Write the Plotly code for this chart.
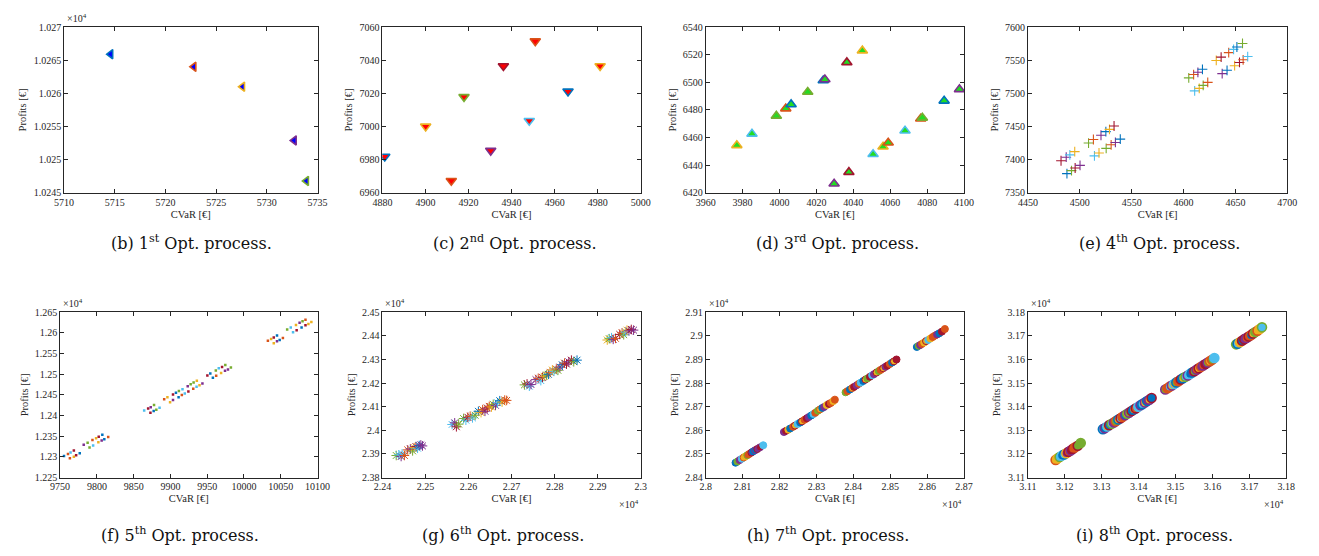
import plotly.graph_objects as go

W, H = 1319, 556
MC = {'b': '#0072BD', 'r': '#D95319', 'y': '#EDB120', 'p': '#7E2F8E',
      'g': '#77AC30', 'c': '#4DBEEE', 'd': '#A2142F'}

# ---------------- data ----------------
# (b) 1st process
b_x = [5714.6, 5722.8, 5727.6, 5732.7, 5733.9]
b_y = [10265.9, 10264.0, 10261.0, 10252.9, 10246.8]
b_edge = "brypg"

# (c) 2nd process
c_x = [4881.1, 4900.1, 4912.0, 4917.9, 4930.3, 4936.2, 4948.2, 4951.0, 4966.2, 4981.1]
c_y = [6981.9, 7000.1, 6967.3, 7017.9, 6985.5, 7036.5, 7003.5, 7051.5, 7021.2, 7036.5]
c_edge = "byrgpdcrby"

# (d) 3rd process
d_x = [3976.9, 3985.1, 3998.3, 4003.4, 4006.3, 4015.3, 4023.7, 4024.6, 4036.5, 4044.9,
       4029.6, 4037.6, 4050.7, 4056.1, 4058.9, 4068.0, 4076.5, 4077.4, 4089.2, 4097.5]
d_y = [6454.4, 6462.7, 6475.7, 6481.0, 6484.0, 6493.0, 6501.3, 6502.0, 6514.4, 6522.9,
       6426.6, 6435.0, 6448.0, 6453.4, 6456.3, 6465.0, 6473.6, 6474.3, 6486.6, 6494.9]
d_edge = "ycgrbgbpdypdcyrcrgbp"

# (e) 4th process
e_x = [4481.9, 4486.9, 4490.4, 4495.1, 4508.4, 4513.1, 4520.4, 4525.1, 4528.6, 4533.0,
       4487.6, 4492.0, 4495.5, 4500.2, 4514.1, 4518.5, 4525.4, 4530.2, 4534.3, 4539.0,
       4605.0, 4609.7, 4613.8, 4618.2, 4631.5, 4636.2, 4643.5, 4648.2, 4651.4, 4656.8,
       4610.7, 4615.1, 4618.9, 4623.3, 4637.2, 4641.9, 4649.2, 4653.9, 4657.4, 4661.8]
e_y = [7398.4, 7403.8, 7407.3, 7412.2, 7425.1, 7430.5, 7436.9, 7442.4, 7445.8, 7450.8,
       7379.1, 7383.5, 7387.5, 7391.4, 7405.8, 7410.2, 7417.1, 7422.5, 7426.0, 7431.0,
       7523.4, 7528.4, 7531.8, 7536.3, 7549.6, 7554.6, 7561.5, 7566.4, 7569.9, 7575.3,
       7503.7, 7507.6, 7512.1, 7516.6, 7529.8, 7534.8, 7541.7, 7546.6, 7550.6, 7555.5]
e_col = "dpcygrpbyd" + "bgdpcygrpb" + "grpbydrcbg" + "cygrpbydrc"

# (f) 5th process
f_x = [9755.3, 9760.7, 9764.2, 9768.7, 9763.3, 9768.7, 9771.8, 9776.7, 9782.1, 9787.4,
       9790.0, 9794.0, 9794.9, 9798.9, 9802.0, 9802.5, 9806.5, 9807.4, 9810.1, 9815.4,
       9864.3, 9869.7, 9873.2, 9877.7, 9872.8, 9877.2, 9880.8, 9885.2, 9891.5, 9895.9,
       9899.5, 9903.5, 9903.5, 9907.5, 9911.1, 9911.5, 9916.4, 9915.5, 9919.5, 9923.5,
       9924.4, 9927.5, 9931.0, 9931.5, 9935.5, 9935.9, 9939.5, 9943.5, 9950.2, 9954.2,
       9957.7, 9961.7, 9962.2, 9965.7, 9968.9, 9970.2, 9974.2, 9974.6, 9978.2, 9982.2,
       10032.5, 10036.9, 10040.5, 10044.9, 10040.5, 10044.9, 10048.5, 10052.9, 10058.7, 10063.6,
       10066.7, 10070.7, 10071.6, 10075.6, 10078.3, 10079.6, 10083.6, 10083.6, 10087.6, 10091.6]
f_y = [12302.3, 12307.1, 12311.0, 12315.8, 12296.8, 12300.7, 12303.9, 12308.6, 12329.2, 12334.0,
       12322.9, 12341.1, 12327.7, 12345.1, 12335.6, 12349.0, 12339.5, 12353.8, 12342.7, 12348.3,
       12412.4, 12417.2, 12420.4, 12425.9, 12406.9, 12410.9, 12414.0, 12418.8, 12439.4, 12444.1,
       12432.3, 12437.8, 12451.3, 12455.2, 12444.1, 12459.2, 12464.0, 12449.7, 12453.6, 12471.1,
       12458.4, 12475.8, 12464.7, 12479.8, 12469.5, 12484.5, 12473.5, 12477.5, 12497.2, 12502.0,
       12491.7, 12509.1, 12496.4, 12514.7, 12502.8, 12517.8, 12508.3, 12522.6, 12511.5, 12516.2,
       12581.2, 12585.2, 12589.1, 12593.9, 12574.9, 12579.6, 12582.8, 12587.6, 12608.2, 12612.9,
       12601.8, 12619.3, 12606.6, 12624.8, 12612.9, 12628.0, 12618.5, 12631.9, 12621.6, 12626.4]
f_col = ("brcdrydbpg" "grcyydpbbr"
         "cdpgdbgcryypdbbgcrcp" "dgrgcyypdbbgrcydpgpg"
         "rydbypbrgccydpbgdryy")

# (g) 6th process
g_x = [22432.1, 22438.2, 22443.5, 22445.8, 22451.1, 22458.8, 22464.9, 22470.2, 22474.0, 22477.9,
       22481.7, 22485.5, 22489.3, 22493.1,
       22561.8, 22567.9, 22571.8, 22577.1, 22588.5, 22593.9, 22598.5, 22603.8, 22609.2, 22615.3,
       22622.9, 22629.0, 22632.8, 22638.2, 22643.5, 22648.1, 22653.4, 22657.3, 22662.6, 22667.2,
       22672.5, 22677.9, 22684.0, 22688.5,
       22729.8, 22735.9, 22741.2, 22745.0, 22756.5, 22761.8, 22767.9, 22771.8, 22775.6, 22780.9,
       22785.5, 22789.3, 22794.7, 22798.5, 22803.8, 22807.6, 22812.2, 22817.6, 22822.9, 22827.5,
       22832.8, 22838.9, 22844.3, 22851.9,
       22922.1, 22926.7, 22932.1, 22935.9, 22941.2, 22951.1, 22956.5, 22960.3, 22964.9, 22967.9,
       22972.5, 22977.9, 22983.2]
g_y = [23893.6, 23896.4, 23889.4, 23900.6, 23893.6, 23917.3, 23921.5, 23913.1, 23927.1, 23931.3,
       23924.3, 23935.5, 23938.3, 23934.1,
       24024.9, 24031.8, 24015.1, 24026.3, 24050.0, 24043.0, 24055.6, 24059.8, 24052.8, 24064.0,
       24080.7, 24075.1, 24087.7, 24080.7, 24094.7, 24101.7, 24098.9, 24110.1, 24105.9, 24117.0,
       24125.4, 24119.8, 24128.2, 24126.8,
       24192.5, 24196.6, 24186.9, 24193.9, 24214.8, 24220.4, 24210.6, 24224.6, 24228.8, 24234.4,
       24237.2, 24245.7, 24255.3, 24249.7, 24259.5, 24254.0, 24267.9, 24277.7, 24284.6, 24280.4,
       24290.2, 24297.2, 24290.2, 24297.2,
       24382.4, 24388.0, 24392.2, 24385.2, 24389.4, 24406.1, 24413.1, 24404.7, 24415.9, 24424.3,
       24421.5, 24427.1, 24424.3]
g_col = ("gcpcrrpgydcbpp" "cpdggcdrcgbyrpdrygpcbyrr"
         "gdcpprcdygbrycrgpbrdpdgb" "ygcprdrgcypdp")

# (h) 7th process
h_x = [28081, 28086, 28092, 28098, 28103, 28108, 28113, 28118, 28124, 28129, 28134, 28140, 28147, 28156,
       28212, 28218, 28224, 28229, 28237, 28242, 28249, 28256, 28261, 28268, 28274, 28279,
       28286, 28292, 28297, 28304, 28310, 28316, 28321, 28328, 28334, 28339, 28346, 28350,
       28379, 28384, 28391, 28397, 28402, 28409, 28415, 28420, 28427, 28433, 28438, 28445,
       28451, 28456, 28463, 28469, 28474, 28481, 28487, 28492, 28499, 28505, 28510, 28517,
       28572, 28577, 28581, 28586, 28592, 28597, 28603, 28609, 28615, 28621, 28627, 28633, 28640, 28648]
h_y = [28463, 28468, 28474, 28480, 28485, 28490, 28495, 28500, 28506, 28511, 28516, 28521, 28528, 28537,
       28593, 28598, 28603, 28608, 28615, 28620, 28627, 28633, 28638, 28645, 28651, 28656,
       28663, 28669, 28674, 28683, 28689, 28695, 28699, 28707, 28712, 28716, 28724, 28730,
       28761, 28766, 28773, 28779, 28784, 28791, 28797, 28802, 28809, 28815, 28820, 28827,
       28833, 28838, 28845, 28851, 28856, 28863, 28869, 28874, 28881, 28887, 28892, 28900,
       28953, 28958, 28961, 28966, 28972, 28978, 28983, 28989, 28995, 29001, 29006, 29011, 29018, 29029]
h_face = ("bgpcyyrrpbbpdc" "pdybrycbyrdpbcrgybpydryr"
          "grbydprcbygdcpygrypdrbyd" "bgpryycyrrpbdrc")
h_edge = ("bgpcrygrdbpdpc" "pdybrdcbdrdpbcrgrbpydryr"
          "grbrdprcbdgdcpdgrdpdrbdd" "bgprydcyrrpbdrc")

# (i) 8th process
i_x = [31175, 31180, 31186, 31192, 31198, 31204, 31210, 31216, 31222, 31228, 31235, 31243,
       31303, 31308, 31315, 31320, 31327, 31333, 31338, 31345, 31351, 31356, 31363, 31369,
       31374, 31381, 31387, 31392, 31399, 31405, 31410, 31417, 31423, 31429, 31435,
       31472, 31478, 31484, 31490, 31496, 31502, 31508, 31514, 31520, 31527, 31533, 31539,
       31545, 31551, 31557, 31563, 31569, 31575, 31581, 31587, 31593, 31599, 31605,
       31664, 31668, 31674, 31680, 31686, 31692, 31698, 31704, 31710, 31716, 31722, 31728, 31734]
i_y = [31175, 31181, 31187, 31193, 31198, 31203, 31209, 31215, 31222, 31228, 31235, 31246,
       31305, 31309, 31316, 31322, 31328, 31333, 31339, 31346, 31351, 31357, 31364, 31370,
       31375, 31382, 31388, 31393, 31400, 31406, 31411, 31418, 31424, 31430, 31437,
       31473, 31478, 31485, 31490, 31496, 31503, 31508, 31515, 31521, 31527, 31532, 31539,
       31545, 31550, 31557, 31563, 31569, 31575, 31581, 31587, 31593, 31599, 31606,
       31664, 31667, 31673, 31679, 31686, 31691, 31697, 31703, 31710, 31716, 31722, 31729, 31736]
i_face = ("yycbcprdrrgg" "cbybcpgycrbygbyrcbcyp"
          "ybgrcyygrbyccbpgryprdg" "ygcgcybprrbyg")
i_edge = ("rygcbydpdrdg" "bpcdgprbdrpgpdbdcpbpb"
          "pdprrpcbrdbgpcbdpdrpdp" "rrcgbyddpdrdg")

# ---------------- tick labels ----------------
b_xt = [5710, 5715, 5720, 5725, 5730, 5735]
b_xl = ["5710", "5715", "5720", "5725", "5730", "5735"]
b_yt = [10245, 10250, 10255, 10260, 10265, 10270]
b_yl = ["1.0245", "1.025", "1.0255", "1.026", "1.0265", "1.027"]
c_xt = [4880, 4900, 4920, 4940, 4960, 4980, 5000]
c_xl = ["4880", "4900", "4920", "4940", "4960", "4980", "5000"]
c_yt = [6960, 6980, 7000, 7020, 7040, 7060]
c_yl = ["6960", "6980", "7000", "7020", "7040", "7060"]
d_xt = [3960, 3980, 4000, 4020, 4040, 4060, 4080, 4100]
d_xl = ["3960", "3980", "4000", "4020", "4040", "4060", "4080", "4100"]
d_yt = [6420, 6440, 6460, 6480, 6500, 6520, 6540]
d_yl = ["6420", "6440", "6460", "6480", "6500", "6520", "6540"]
e_xt = [4450, 4500, 4550, 4600, 4650, 4700]
e_xl = ["4450", "4500", "4550", "4600", "4650", "4700"]
e_yt = [7350, 7400, 7450, 7500, 7550, 7600]
e_yl = ["7350", "7400", "7450", "7500", "7550", "7600"]
f_xt = [9750, 9800, 9850, 9900, 9950, 10000, 10050, 10100]
f_xl = ["9750", "9800", "9850", "9900", "9950", "10000", "10050", "10100"]
f_yt = [12250, 12300, 12350, 12400, 12450, 12500, 12550, 12600, 12650]
f_yl = ["1.225", "1.23", "1.235", "1.24", "1.245", "1.25", "1.255", "1.26", "1.265"]
g_xt = [22400, 22500, 22600, 22700, 22800, 22900, 23000]
g_xl = ["2.24", "2.25", "2.26", "2.27", "2.28", "2.29", "2.3"]
g_yt = [23800, 23900, 24000, 24100, 24200, 24300, 24400, 24500]
g_yl = ["2.38", "2.39", "2.4", "2.41", "2.42", "2.43", "2.44", "2.45"]
h_xt = [28000, 28100, 28200, 28300, 28400, 28500, 28600, 28700]
h_xl = ["2.8", "2.81", "2.82", "2.83", "2.84", "2.85", "2.86", "2.87"]
h_yt = [28400, 28500, 28600, 28700, 28800, 28900, 29000, 29100]
h_yl = ["2.84", "2.85", "2.86", "2.87", "2.88", "2.89", "2.9", "2.91"]
i_xt = [31100, 31200, 31300, 31400, 31500, 31600, 31700, 31800]
i_xl = ["3.11", "3.12", "3.13", "3.14", "3.15", "3.16", "3.17", "3.18"]
i_yt = [31100, 31200, 31300, 31400, 31500, 31600, 31700, 31800]
i_yl = ["3.11", "3.12", "3.13", "3.14", "3.15", "3.16", "3.17", "3.18"]

captions = ["(b) 1<sup>st</sup> Opt. process.", "(c) 2<sup>nd</sup> Opt. process.",
            "(d) 3<sup>rd</sup> Opt. process.", "(e) 4<sup>th</sup> Opt. process.",
            "(f) 5<sup>th</sup> Opt. process.", "(g) 6<sup>th</sup> Opt. process.",
            "(h) 7<sup>th</sup> Opt. process.", "(i) 8<sup>th</sup> Opt. process."]


def cols(s, n):
    return [MC[s[k % len(s)]] for k in range(n)]


panels = [
    dict(x=b_x, y=b_y, marker=dict(symbol='triangle-left', size=8, color='#0000FF',
                                   line=dict(color=cols(b_edge, len(b_x)), width=1.6)),
         xr=[5710, 5735], yr=[10245, 10270], xt=b_xt, xl=b_xl, yt=b_yt, yl=b_yl,
         box=(55, 313, 21.5, 191), cap=185, yexp=True, xexp=False),
    dict(x=c_x, y=c_y, marker=dict(symbol='triangle-down', size=9, color='#FF0000',
                                   line=dict(color=cols(c_edge, len(c_x)), width=1.6)),
         xr=[4880, 5000], yr=[6960, 7060], xt=c_xt, xl=c_xl, yt=c_yt, yl=c_yl,
         box=(379, 642, 21.5, 191), cap=514, yexp=False, xexp=False),
    dict(x=d_x, y=d_y, marker=dict(symbol='triangle-up', size=9, color='#22DD22',
                                   line=dict(color=cols(d_edge, len(d_x)), width=1.6)),
         xr=[3960, 4100], yr=[6420, 6540], xt=d_xt, xl=d_xl, yt=d_yt, yl=d_yl,
         box=(708, 971, 21.5, 191), cap=842, yexp=False, xexp=False),
    dict(x=e_x, y=e_y, marker=dict(symbol='cross-thin-open', size=7, color=cols(e_col, len(e_x)),
                                   line=dict(width=1.1)),
         xr=[4450, 4700], yr=[7350, 7600], xt=e_xt, xl=e_xl, yt=e_yt, yl=e_yl,
         box=(1036, 1300, 21.5, 191), cap=1170, yexp=False, xexp=False),
    dict(x=f_x, y=f_y, marker=dict(symbol='square', size=2.5, color=cols(f_col, len(f_x)),
                                   line=dict(width=0)),
         xr=[9750, 10100], yr=[12250, 12650], xt=f_xt, xl=f_xl, yt=f_yt, yl=f_yl,
         box=(51, 313, 313, 482), cap=173, yexp=True, xexp=False),
    dict(x=g_x, y=g_y, marker=dict(symbol='asterisk-open', size=8, color=cols(g_col, len(g_x)),
                                   line=dict(width=1)),
         xr=[22400, 23000], yr=[23800, 24500], xt=g_xt, xl=g_xl, yt=g_yt, yl=g_yl,
         box=(379, 642, 313, 482), cap=502, yexp=True, xexp=True),
    dict(x=h_x, y=h_y, marker=dict(symbol='circle', size=7, color=cols(h_face, len(h_x)),
                                   line=dict(color=cols(h_edge, len(h_x)), width=1)),
         xr=[28000, 28700], yr=[28400, 29100], xt=h_xt, xl=h_xl, yt=h_yt, yl=h_yl,
         box=(708, 971, 313, 482), cap=833, yexp=True, xexp=True),
    dict(x=i_x, y=i_y, marker=dict(symbol='circle', size=9, color=cols(i_face, len(i_x)),
                                   line=dict(color=cols(i_edge, len(i_x)), width=1.6)),
         xr=[31100, 31800], yr=[31100, 31800], xt=i_xt, xl=i_xl, yt=i_yt, yl=i_yl,
         box=(1036, 1299, 313, 482), cap=1165, yexp=True, xexp=True),
]

TF = 'Liberation Serif, Times New Roman, serif'
CF = 'DejaVu Serif, serif'
AX = '#262626'
fig = go.Figure()
annotations = []
layout = {}
for k, p in enumerate(panels, start=1):
    sx = '' if k == 1 else str(k)
    fig.add_trace(go.Scatter(x=p['x'], y=p['y'], mode='markers', marker=p['marker'],
                             xaxis='x' + sx, yaxis='y' + sx, showlegend=False,
                             cliponaxis=True))
    l, r, t, b = p['box']
    common = dict(ticks='inside', ticklen=4, tickwidth=0.8, tickcolor=AX,
                  showline=True, linecolor=AX, linewidth=0.8, mirror='ticks',
                  showgrid=False, zeroline=False,
                  tickfont=dict(family=TF, size=10, color=AX))
    layout['xaxis' + sx] = dict(common, domain=[l / W, r / W], range=p['xr'],
                                tickvals=p['xt'], ticktext=p['xl'], anchor='y' + sx,
                                title=dict(text='CVaR [€]', font=dict(family=TF, size=10.5, color=AX),
                                           standoff=3))
    layout['yaxis' + sx] = dict(common, domain=[1 - b / H, 1 - t / H], range=p['yr'],
                                tickvals=p['yt'], ticktext=p['yl'], anchor='x' + sx,
                                title=dict(text='Profits [€]', font=dict(family=TF, size=10.5, color=AX),
                                           standoff=4))
    if p['yexp']:
        annotations.append(dict(xref='paper', yref='paper', x=(l + 1) / W, y=1 - (t - 1) / H,
                                xanchor='left', yanchor='bottom', showarrow=False,
                                text='×10<sup>4</sup>', font=dict(family=TF, size=10, color=AX)))
    if p['xexp']:
        annotations.append(dict(xref='paper', yref='paper', x=r / W, y=1 - (b + 27) / H,
                                xanchor='right', yanchor='middle', showarrow=False,
                                text='×10<sup>4</sup>', font=dict(family=TF, size=10, color=AX)))
    cy = 242 if t < 100 else 540
    annotations.append(dict(xref='paper', yref='paper', x=p['cap'] / W, y=1 - cy / H,
                            xanchor='center', yanchor='middle', showarrow=False,
                            text=captions[k - 1], font=dict(family=CF, size=16, color='#111111')))

fig.update_layout(width=W, height=H, margin=dict(l=0, r=0, t=0, b=0),
                  paper_bgcolor='white', plot_bgcolor='white',
                  annotations=annotations, **layout)
fig.write_html("out.html")
